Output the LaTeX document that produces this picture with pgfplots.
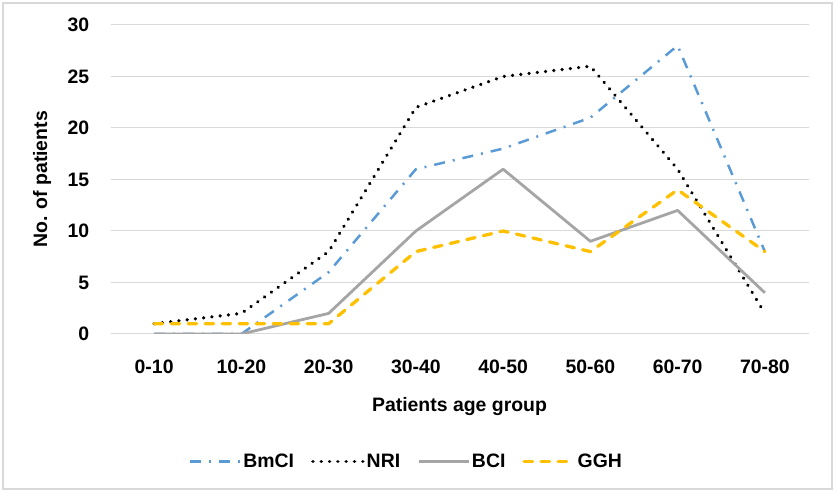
\documentclass[border=0pt]{standalone}
\usepackage{pgfplots}
\pgfplotsset{compat=1.18}
\usepackage{fontspec}
\setmainfont{Liberation Sans}
\definecolor{cBm}{HTML}{5B9BD5}
\definecolor{cBC}{HTML}{A5A5A5}
\definecolor{cGG}{HTML}{FFC000}
\definecolor{cGrid}{HTML}{D9D9D9}
\newcommand{\cf}{\bfseries\fontsize{19.5}{23}\selectfont}
\begin{document}
\begin{tikzpicture}[x=1bp,y=1bp]
\useasboundingbox (0,0) rectangle (836,493);
\draw[cGrid, line width=1.5bp] (3,4) rectangle (832,490);
\begin{axis}[
  at={(110.5bp,159bp)}, anchor=south west,
  scale only axis, width=698bp, height=309bp,
  xmin=-0.5, xmax=7.5, ymin=0, ymax=30,
  xtick={0,...,7},
  xticklabels={0-10,10-20,20-30,30-40,40-50,50-60,60-70,70-80},
  ytick={0,5,...,30},
  axis line style={draw=none},
  major tick length=0pt,
  ymajorgrids,
  major grid style={cGrid, line width=1bp},
  /pgf/number format/assume math mode=true,
  tick label style={font=\cf, inner sep=0pt},
  yticklabel style={anchor=east, xshift=-21bp},
  xticklabel style={anchor=north, yshift=-25.5bp},
  xlabel={Patients age group},
  ylabel={No. of patients},
  xlabel style={font=\cf, inner sep=0pt, at={(axis description cs:0.5,-0.2362)}, anchor=center},
  ylabel style={font=\cf, inner sep=0pt, at={(axis description cs:-0.0981,0.5)}, anchor=center},
  legend columns=4,
  legend image code/.code={\draw[#1] (0bp,0bp) -- (50bp,0bp);},
  legend style={at={(axis description cs:0.424,-0.413)}, anchor=center, draw=none, font=\cf,
    /tikz/every even column/.append style={column sep=15bp}},
]
\addplot[cBm, line width=2.5bp, line join=round, dash pattern=on 11bp off 8bp on 2bp off 8bp]
  coordinates {(0,0)(1,0)(2,6)(3,16)(4,18)(5,21)(6,28)(7,8)};
\addplot[black, line width=3.6bp, line cap=round, line join=round, dash pattern=on 0.01bp off 8.3bp]
  coordinates {(0,1)(1,2)(2,8)(3,22)(4,25)(5,26)(6,16)(7,2)};
\addplot[cBC, line width=2.8bp, line join=round]
  coordinates {(0,0)(1,0)(2,2)(3,10)(4,16)(5,9)(6,12)(7,4)};
\addplot[cGG, line width=3.3bp, line cap=round, line join=round, dash pattern=on 8.5bp off 8.5bp]
  coordinates {(0,1)(1,1)(2,1)(3,8)(4,10)(5,8)(6,14)(7,8)};
\legend{BmCI,NRI,BCI,GGH}
\end{axis}
\end{tikzpicture}
\end{document}
